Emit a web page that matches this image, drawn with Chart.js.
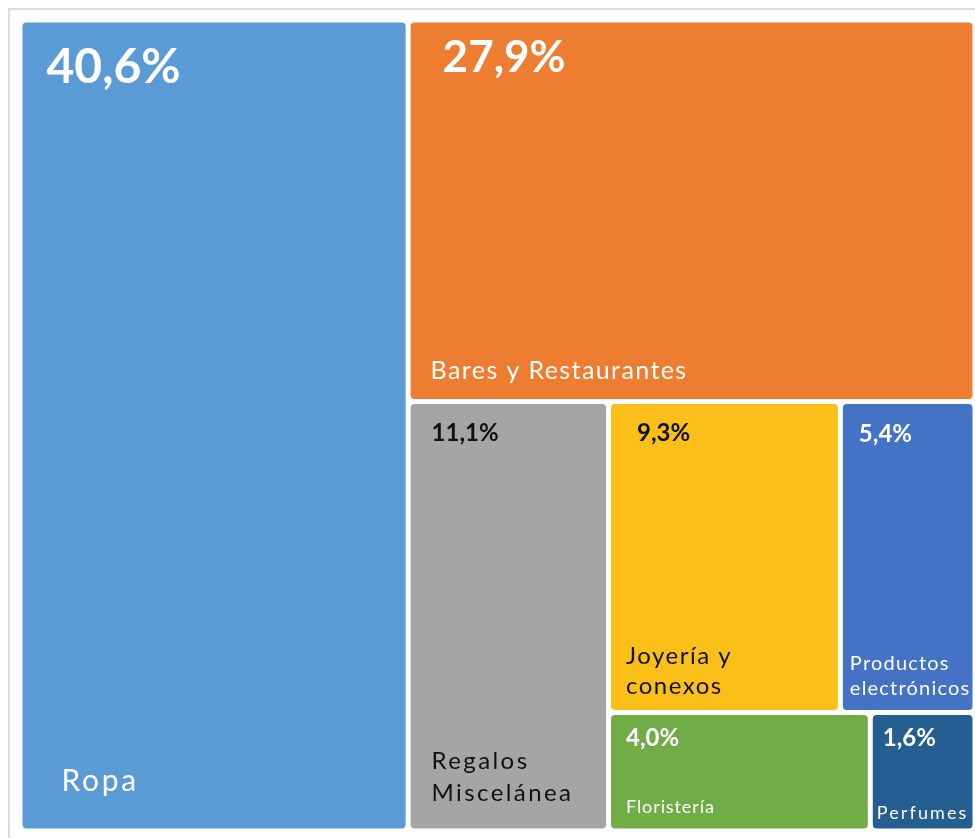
<!DOCTYPE html>
<html>
<head>
<meta charset="utf-8">
<script src="https://cdn.jsdelivr.net/npm/chart.js@4.4.0/dist/chart.umd.min.js"></script>
<style>
	html, body { margin: 0; padding: 0; background: #ffffff; }
	#wrap { width: 975px; height: 838px; }
</style>
</head>
<body>
<div id="wrap"><canvas id="treemap"></canvas></div>
<script>
// data
const categories = ['Ropa', 'Bares y Restaurantes', 'Regalos Miscelánea', 'Joyería y conexos', 'Productos electrónicos', 'Floristería', 'Perfumes'];
const nameLines = [['Ropa'], ['Bares y Restaurantes'], ['Regalos', 'Miscelánea'], ['Joyería y', 'conexos'], ['Productos', 'electrónicos'], ['Floristería'], ['Perfumes']];
const shares = [40.6, 27.9, 11.1, 9.3, 5.4, 4.0, 1.6];

// how the cells are nested: 'h' splits along x, 'v' along y
const layoutTree = ['h', 0, ['v', 1, ['h', 2, ['v', ['h', 3, 4], ['h', 5, 6]]]]];

// styles
const fillColors = ['#5b9bd5', '#ed7d31', '#a5a5a5', '#fbbf1a', '#4472c4', '#70ad47', '#255e91'];
const textColors = ['#ffffff', '#ffffff', '#111111', '#111111', '#ffffff', '#ffffff', '#ffffff'];
// pct: [size, dx, baseline from top]  name: [size, dx, last baseline from bottom, line height, letter spacing]
const labelStyles = [
	{ pct: [48, 24, 60], name: [30, 39, 38, 0, 2.7] },
	{ pct: [44, 32, 49], name: [25, 20, 20, 0, 1.4] },
	{ pct: [24, 21, 37], name: [24, 21, 28, 32, 2.4] },
	{ pct: [24, 26, 37], name: [24, 15, 16, 30, 1.5] },
	{ pct: [24, 16, 38], name: [20, 7, 15, 25, 1.2] },
	{ pct: [24, 15, 31], name: [18, 15, 16, 0, 0.9] },
	{ pct: [24, 10, 31], name: [18, 4, 10, 0, 2.1] }
];
const FONT = 'Lato, "DejaVu Sans", sans-serif';
const GAP = 5;

function sumOf(node) {
	if (typeof node === 'number') return shares[node];
	return node.slice(1).reduce((s, n) => s + sumOf(n), 0);
}

// lay out cells in value space (0..100 on both axes)
function layout(node, x0, y0, x1, y1, out) {
	if (typeof node === 'number') {
		out[node] = { x0, y0, x1, y1 };
		return out;
	}
	const dir = node[0];
	const kids = node.slice(1);
	const total = sumOf(node);
	let pos = dir === 'h' ? x0 : y0;
	kids.forEach((kid) => {
		const span = (dir === 'h' ? x1 - x0 : y1 - y0) * sumOf(kid) / total;
		if (dir === 'h') layout(kid, pos, y0, pos + span, y1, out);
		else layout(kid, x0, pos, x1, pos + span, out);
		pos += span;
	});
	return out;
}

const cells = layout(layoutTree, 0, 0, 100, 100, []);

function formatShare(v) {
	return v.toFixed(1).replace('.', ',') + '%';
}

const frameAndCells = {
	id: 'treemapCells',
	beforeDraw(chart) {
		const ctx = chart.ctx;
		ctx.save();
		ctx.fillStyle = '#ffffff';
		ctx.fillRect(0, 0, chart.width, chart.height);
		ctx.strokeStyle = '#dcdcdc';
		ctx.lineWidth = 2;
		ctx.strokeRect(9, 9, chart.width + 20, chart.height + 20);
		ctx.restore();
	},
	afterDatasetsDraw(chart) {
		const ctx = chart.ctx;
		const xs = chart.scales.x;
		const ys = chart.scales.y;
		ctx.save();
		cells.forEach((c, i) => {
			const left = xs.getPixelForValue(c.x0) + GAP / 2;
			const right = xs.getPixelForValue(c.x1) - GAP / 2;
			const top = ys.getPixelForValue(c.y0) + GAP / 2;
			const bottom = ys.getPixelForValue(c.y1) - GAP / 2;
			ctx.beginPath();
			ctx.roundRect(left, top, right - left, bottom - top, 4);
			ctx.fillStyle = fillColors[i];
			ctx.fill();

			const st = labelStyles[i];
			ctx.fillStyle = textColors[i];
			ctx.textBaseline = 'alphabetic';
			ctx.textAlign = 'left';
			ctx.letterSpacing = '0px';
			ctx.font = 'bold ' + st.pct[0] + 'px ' + FONT;
			ctx.fillText(formatShare(shares[i]), left + st.pct[1], top + st.pct[2]);

			ctx.font = st.name[0] + 'px ' + FONT;
			ctx.letterSpacing = st.name[4] + 'px';
			const lines = nameLines[i];
			lines.forEach((line, k) => {
				const y = bottom - st.name[2] - (lines.length - 1 - k) * st.name[3];
				ctx.fillText(line, left + st.name[1], y);
			});
		});
		ctx.restore();
	}
};

new Chart(document.getElementById('treemap'), {
	type: 'scatter',
	data: {
		labels: categories,
		datasets: [{ label: 'Participación', data: [] }]
	},
	options: {
		responsive: true,
		maintainAspectRatio: false,
		animation: false,
		layout: {
			padding: { left: 20, top: 20, right: 0, bottom: 7 }
		},
		scales: {
			x: { type: 'linear', min: 0, max: 100, display: false },
			y: { type: 'linear', min: 0, max: 100, reverse: true, display: false }
		},
		plugins: {
			legend: { display: false },
			tooltip: { enabled: false }
		}
	},
	plugins: [frameAndCells]
});
</script>
</body>
</html>
